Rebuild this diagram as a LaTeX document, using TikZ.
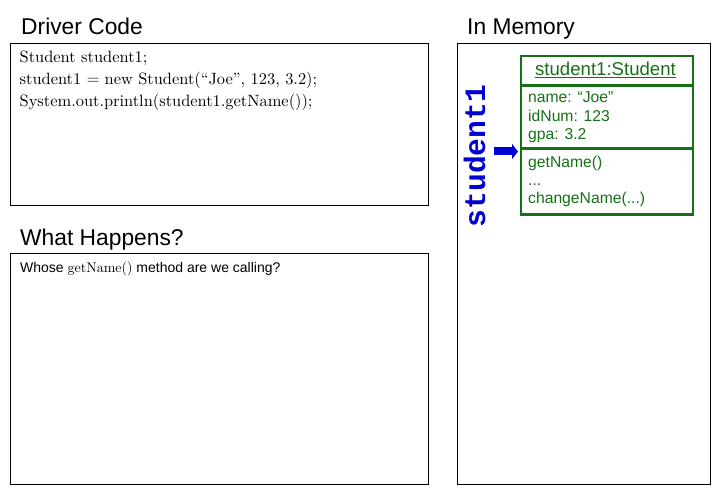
\documentclass[tikz,border=0pt]{standalone}
\usepackage{fontspec}
\usetikzlibrary{arrows.meta}
\newfontfamily\uisans{Liberation Sans}
\newfontfamily\uimono{Liberation Mono}
\newfontfamily\coderm{lmroman10-regular.otf}
\definecolor{objgreen}{RGB}{22,112,22}
\definecolor{refblue}{RGB}{0,0,210}
\tikzset{
  panel/.style={draw=black, line width=1.2pt, anchor=north west, inner sep=0pt},
  heading/.style={anchor=base west, inner sep=0pt, font=\uisans\fontsize{22.8}{26}\selectfont},
  codeline/.style={anchor=base west, inner sep=0pt, font=\coderm\fontsize{16.4}{20}\selectfont},
  objpart/.style={draw=objgreen, line width=2.4pt, anchor=north west, inner sep=0pt, minimum width=171.5pt},
  objtext/.style={anchor=base west, inner sep=0pt, text=objgreen, font=\uisans\fontsize{15.7}{18}\selectfont},
  ptr/.style={draw=refblue, line width=8pt, -{Triangle[length=6pt,width=15pt]}, refblue}
}
\begin{document}
\begin{tikzpicture}[x=1pt, y=-1pt]
  \useasboundingbox (0,0) rectangle (720,494);

  % panels
  \node[panel, minimum width=418pt, minimum height=162pt] (driver) at (9.5,43) {};
  \node[panel, minimum width=418pt, minimum height=231pt] (happens) at (9.5,253) {};
  \node[panel, minimum width=253.5pt, minimum height=441pt] (memory) at (456.5,43) {};

  % headings
  \node[heading] (hdriver) at (21,35) {Driver Code};
  \node[heading] (hmemory) at (467,35) {In Memory};
  \node[heading] (hhappens) at (20,246) {What Happens?};

  % driver code
  \node[codeline] (c1) at (19.5,63) {Student student1;};
  \node[codeline] (c2) at (19.5,85) {student1 $=$ new Student(“Joe”, 123, 3.2);};
  \node[codeline] (c3) at (19.5,106.5) {System.out.println(student1.getName());};

  % question
  \node[anchor=base west, inner sep=0pt, font=\uisans\fontsize{14}{17}\selectfont] (q1) at (20,273)
    {Whose {\coderm\fontsize{14}{17}\selectfont getName()} method are we calling?};

  % object in memory
  \node[objpart, minimum height=29.5pt] (objhead) at (520,55) {};
  \node[objpart, minimum height=63pt] (objattr) at (520,84.5) {};
  \node[objpart, minimum height=66pt] (objmeth) at (520,147.5) {};

  \node[anchor=base, inner sep=0pt, text=objgreen, font=\uisans\fontsize{18.6}{22}\selectfont] (objtitle)
    at (605.5,76) {\underline{student1:Student}};

  \node[objtext] (a1) at (528,103) {name: “Joe”};
  \node[objtext] (a2) at (528,121.5) {idNum: 123};
  \node[objtext] (a3) at (528,140) {gpa: 3.2};
  \node[objtext] (m1) at (528,168) {getName()};
  \node[objtext] (m2) at (528,186) {...};
  \node[objtext] (m3) at (528,204) {changeName(...)};

  % reference variable
  \node[rotate=90, inner sep=0pt, text=refblue, font=\uimono\bfseries\fontsize{29.6}{32}\selectfont] (refname)
    at (474.5,156) {student1};
  \coordinate (ptrtail) at (494,151.5);
  \draw[ptr] (ptrtail) -- ([xshift=-2pt]ptrtail -| objmeth.west);
\end{tikzpicture}
\end{document}
